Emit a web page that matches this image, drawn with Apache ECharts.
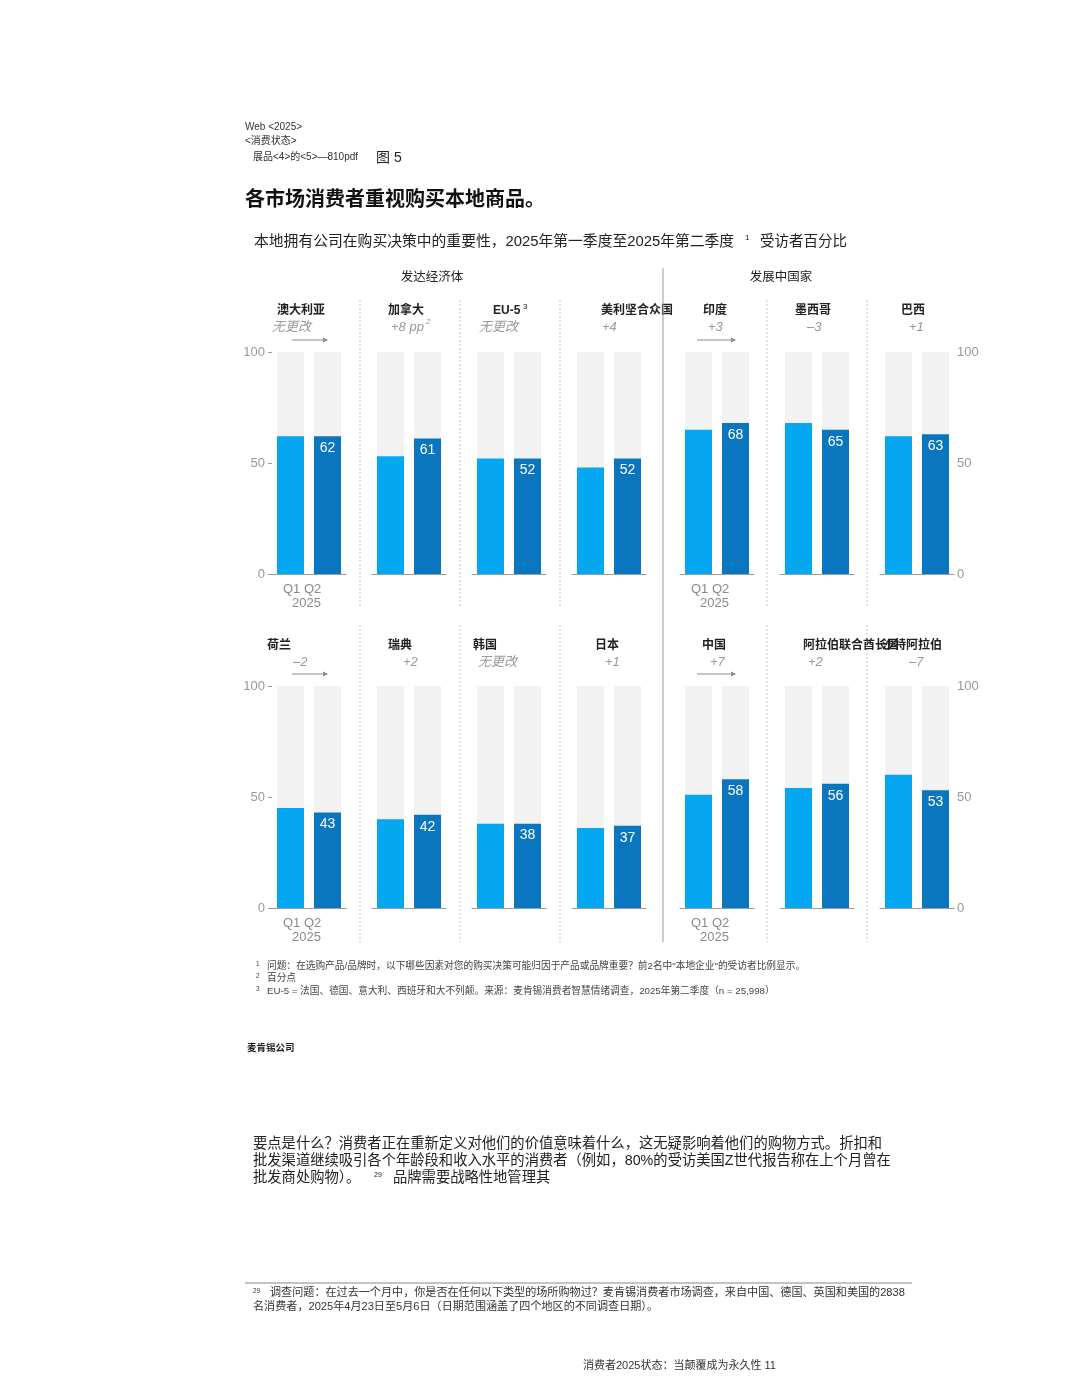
<!DOCTYPE html>
<html>
<head>
<meta charset="utf-8">
<title>各市场消费者重视购买本地商品</title>
<script src="https://cdn.jsdelivr.net/npm/echarts@6/dist/echarts.min.js"></script>
<style>
  html, body { margin: 0; padding: 0; background: #fff; }
  #chart { width: 1080px; height: 1398px; }
</style>
</head>
<body>
<div id="chart"></div>
<script>
// data (top row first, then bottom row)
const markets = ['澳大利亚', '加拿大', 'EU-5', '美利坚合众国', '印度', '墨西哥', '巴西',
  '荷兰', '瑞典', '韩国', '日本', '中国', '阿拉伯联合酋长国', '沙特阿拉伯'];
const q1Values = [62, 53, 52, 48, 65, 68, 62, 45, 40, 38, 36, 51, 54, 60];
const q2Values = [62, 61, 52, 52, 68, 65, 63, 43, 42, 38, 37, 58, 56, 53];
const changeLabels = ['无更改', '+8 pp', '无更改', '+4', '+3', '–3', '+1',
  '–2', '+2', '无更改', '+1', '+7', '+2', '–7'];
const quarters = ['Q1', 'Q2'];
const groupLabels = ['发达经济体', '发展中国家'];
const footnotes = [
  '问题：在选购产品/品牌时，以下哪些因素对您的购买决策可能归因于产品或品牌重要？前2名中"本地企业"的受访者比例显示。',
  '百分点',
  'EU-5 = 法国、德国、意大利、西班牙和大不列颠。来源：麦肯锡消费者智慧情绪调查，2025年第二季度（n = 25,998）'
];

// layout
const FONT = '"Liberation Sans", "Noto Sans CJK SC", sans-serif';
const Q1_COLOR = '#05a8f0';
const Q2_COLOR = '#0a76bf';
const panelLeft = [272, 372, 472, 572, 680, 780, 880];
const rowTop = [352, 686];
const nameX = [[277, 388, 493, 601, 703, 795, 901], [267, 388, 473, 595, 702, 803, 882]];
const subX = [[272, 391, 479, 602, 708, 807, 909], [293, 403, 478, 605, 710, 808, 909]];

const chart = echarts.init(document.getElementById('chart'), null, { renderer: 'canvas' });

function txt(x, y, s, size, o) {
  o = o || {};
  return {
    type: 'text', x: x, y: y, silent: true,
    style: {
      text: s, fontSize: size, fontFamily: FONT,
      fontWeight: o.weight || 'normal', fontStyle: o.italic ? 'italic' : 'normal',
      fill: o.color || '#222', textAlign: o.align || 'left', textVerticalAlign: 'middle'
    }
  };
}
function line(x1, y1, x2, y2, color, dash) {
  return {
    type: 'line', silent: true,
    shape: { x1: x1, y1: y1, x2: x2, y2: y2 },
    style: { stroke: color, lineWidth: 1, lineDash: dash || null }
  };
}
function arrow(x1, x2, y) {
  return [
    line(x1, y, x2, y, '#8c8c8c'),
    { type: 'polygon', silent: true, shape: { points: [[x2 + 1, y], [x2 - 4, y - 2.5], [x2 - 4, y + 2.5]] }, style: { fill: '#8c8c8c' } }
  ];
}

const grids = [], xAxes = [], yAxes = [], series = [];
const graphics = [];

markets.forEach(function (name, i) {
  const row = i < 7 ? 0 : 1;
  const col = i % 7;
  const left = panelLeft[col];
  grids.push({ left: left, top: rowTop[row], width: 74, height: 222 });
  xAxes.push({
    type: 'category', gridIndex: i, data: quarters,
    axisLine: { lineStyle: { color: '#9a9a9a', width: 1 } },
    axisTick: { show: false }, axisLabel: { show: false }
  });
  yAxes.push({
    type: 'value', gridIndex: i, min: 0, max: 100, interval: 50,
    position: col === 6 ? 'right' : 'left',
    splitLine: { show: false }, axisLine: { show: false },
    axisTick: { show: col === 0, length: 4, lineStyle: { color: '#9a9a9a' } },
    axisLabel: {
      show: col === 0 || col === 6, margin: col === 0 ? 7 : 3,
      color: '#999', fontSize: 13, fontFamily: FONT
    }
  });
  series.push({
    type: 'bar', xAxisIndex: i, yAxisIndex: i, barWidth: 27,
    showBackground: true, backgroundStyle: { color: '#f2f2f2' },
    label: { position: 'insideTop', distance: 5, color: '#fff', fontSize: 14, fontFamily: FONT },
    data: [
      { value: q1Values[i], itemStyle: { color: Q1_COLOR }, label: { show: false } },
      { value: q2Values[i], itemStyle: { color: Q2_COLOR }, label: { show: true } }
    ]
  });

  // panel headers
  const ny = row === 0 ? 311 : 646;
  graphics.push(txt(nameX[row][col], ny, name, 12, { weight: 'bold', color: '#222' }));
  graphics.push(txt(subX[row][col], ny + 16, changeLabels[i], 13, { italic: true, color: '#999' }));

  if (col === 0 || col === 4) {
    const off = col === 0 ? 0 : -3;
    const ay = row === 0 ? 340 : 674;
    arrow(left + 20 + off, left + 55, ay).forEach(function (g) { graphics.push(g); });
    const qy = row === 0 ? 589 : 923;
    graphics.push(txt(left + 11, qy, quarters.join(' '), 13, { color: '#8a8a8a' }));
    graphics.push(txt(left + 20, qy + 14, '2025', 13, { color: '#8a8a8a' }));
  }
});

// superscripts in the panel headers
graphics.push(txt(523, 307, '3', 8, { color: '#222' }));
graphics.push(txt(426, 322, '2', 8, { italic: true, color: '#999' }));

// separators
[360, 460, 560, 767, 867].forEach(function (x) {
  graphics.push(line(x, 300, x, 607, '#c4c4c4', [2, 2]));
  graphics.push(line(x, 625, x, 942, '#c4c4c4', [2, 2]));
});
graphics.push(line(663, 268, 663, 942, '#9a9a9a'));

// header block
graphics.push(txt(245, 127, 'Web <2025>', 10, { color: '#333' }));
graphics.push(txt(245, 141, '<消费状态>', 10, { color: '#333' }));
graphics.push(txt(253, 157, '展品<4>的<5>—810pdf', 10, { color: '#333' }));
graphics.push(txt(376, 158, '图 5', 14, { color: '#222' }));
graphics.push(txt(245, 200, '各市场消费者重视购买本地商品。', 20, { weight: 'bold', color: '#111' }));
graphics.push(txt(254, 242, '本地拥有公司在购买决策中的重要性，2025年第一季度至2025年第二季度', 14.8, { color: '#222' }));
graphics.push(txt(745, 238, '1', 8, { color: '#222' }));
graphics.push(txt(760, 242, '受访者百分比', 14.5, { color: '#222' }));
graphics.push(txt(432, 278, groupLabels[0], 12.5, { align: 'center', color: '#222' }));
graphics.push(txt(781, 278, groupLabels[1], 12.5, { align: 'center', color: '#222' }));

// footnotes
footnotes.forEach(function (s, k) {
  const fy = [966, 978, 991][k];
  graphics.push(txt(256, fy - 2, String(k + 1), 6.5, { color: '#444' }));
  graphics.push(txt(267, fy, s, 9.7, { color: '#444' }));
});
graphics.push(txt(247, 1048, '麦肯锡公司', 9.5, { weight: 'bold', color: '#222' }));

// body text
graphics.push(txt(253, 1144, '要点是什么？消费者正在重新定义对他们的价值意味着什么，这无疑影响着他们的购物方式。折扣和', 14.3, { color: '#222' }));
graphics.push(txt(253, 1161, '批发渠道继续吸引各个年龄段和收入水平的消费者（例如，80%的受访美国Z世代报告称在上个月曾在', 14.3, { color: '#222' }));
graphics.push(txt(253, 1178, '批发商处购物）。', 14.3, { color: '#222' }));
graphics.push(txt(374, 1175, '29', 7, { color: '#222' }));
graphics.push(txt(393, 1178, '品牌需要战略性地管理其', 14.3, { color: '#222' }));

graphics.push(line(245, 1283, 912, 1283, '#888'));
graphics.push(txt(253, 1291, '29', 6.5, { color: '#333' }));
graphics.push(txt(270, 1293, '调查问题：在过去一个月中，你是否在任何以下类型的场所购物过？麦肯锡消费者市场调查，来自中国、德国、英国和美国的2838', 11.1, { color: '#333' }));
graphics.push(txt(253, 1307, '名消费者，2025年4月23日至5月6日（日期范围涵盖了四个地区的不同调查日期）。', 11.1, { color: '#333' }));
graphics.push(txt(583, 1366, '消费者2025状态：当颠覆成为永久性 11', 11, { color: '#333' }));

chart.setOption({
  animation: false,
  backgroundColor: '#fff',
  grid: grids,
  xAxis: xAxes,
  yAxis: yAxes,
  series: series,
  graphic: graphics
});
</script>
</body>
</html>
